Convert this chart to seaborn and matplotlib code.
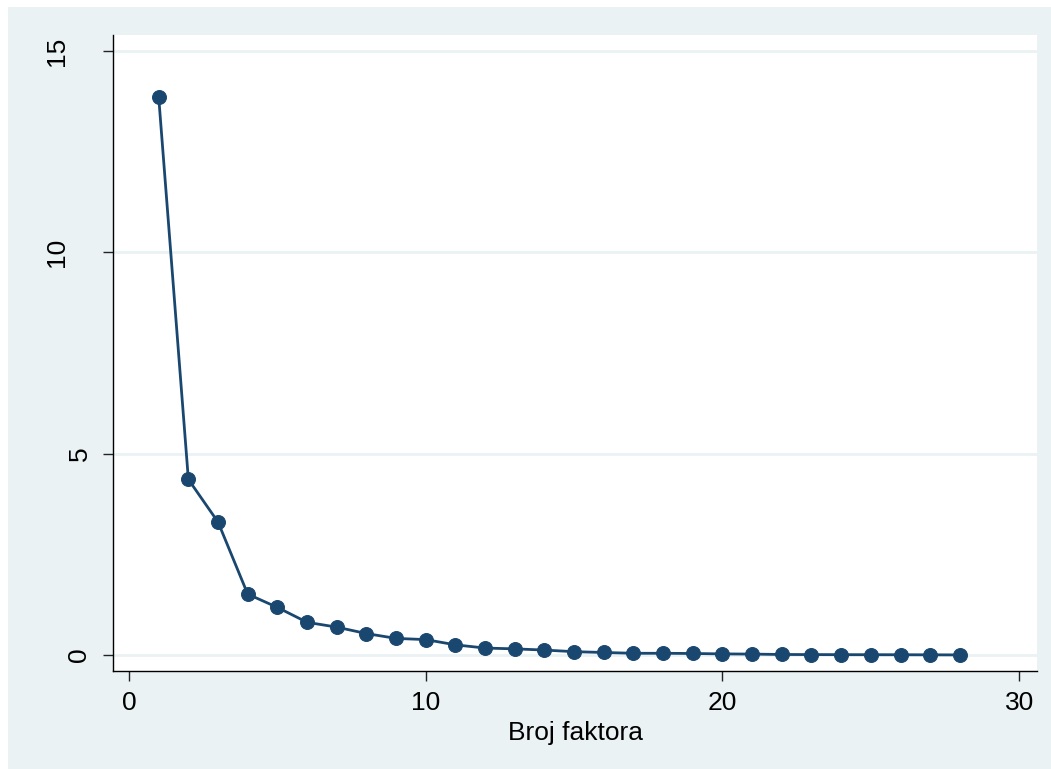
import numpy as np
import pandas as pd
import matplotlib
matplotlib.use("Agg")
import matplotlib.pyplot as plt
import matplotlib.transforms as mtransforms
import seaborn as sns

# scree plot data
factors = list(range(1, 29))
eigenvalues = [13.86, 4.36, 3.30, 1.51, 1.18, 0.81, 0.69, 0.53, 0.41, 0.38,
               0.25, 0.17, 0.15, 0.12, 0.08, 0.06, 0.04, 0.04, 0.035, 0.025,
               0.02, 0.01, 0.008, 0.006, 0.005, 0.004, 0.002, 0.0]
x_ticks = [0, 10, 20, 30]
y_ticks = [0, 5, 10, 15]

df = pd.DataFrame({"factor": factors, "eigen": eigenvalues})

bg = "#eaf2f3"
navy = "#1a476f"

sns.set_style("white")
plt.rcParams["font.family"] = ["Liberation Sans", "DejaVu Sans"]

fig = plt.figure(figsize=(10.51, 7.69), dpi=100)
fig.patch.set_facecolor("white")

# light outer frame like Stata's s2color scheme
bgax = fig.add_axes([8 / 1051, 0, 1 - 8 / 1051, 1 - 7 / 769], zorder=-10)
bgax.set_facecolor(bg)
bgax.set_xticks([])
bgax.set_yticks([])
for s in bgax.spines.values():
    s.set_visible(False)

ax = fig.add_axes([113 / 1051, 1 - 671 / 769, 924 / 1051, 636 / 769], zorder=1)
ax.set_facecolor("white")

for yt in y_ticks:
    ax.axhline(yt, color=bg, lw=2, zorder=0)

sns.lineplot(data=df, x="factor", y="eigen", ax=ax, color=navy, lw=2,
             marker="o", markersize=10, markeredgecolor=navy)

ax.set_xlim(-0.54, 30.6)
ax.set_ylim(-0.4, 15.4)
ax.set_xticks(x_ticks)
ax.set_yticks(y_ticks)
ax.tick_params(axis="both", direction="out", length=7.5, width=1, labelsize=19,
               colors="#222222", labelcolor="black", bottom=True, left=True)
ax.tick_params(axis="x", pad=7)
ax.tick_params(axis="y", pad=8)
plt.setp(ax.get_yticklabels(), rotation=90, va="center")

# Stata pushes the two-digit y labels further left
shift = mtransforms.ScaledTranslation(-0.22, 0, fig.dpi_scale_trans)
for lab in ax.get_yticklabels():
    if len(lab.get_text()) > 1:
        lab.set_transform(lab.get_transform() + shift)

ax.set_xlabel("Broj faktora", fontsize=19, labelpad=4, color="black")
ax.set_ylabel("")
for side in ["top", "right"]:
    ax.spines[side].set_visible(False)
for side in ["left", "bottom"]:
    ax.spines[side].set_color("black")
    ax.spines[side].set_linewidth(1)

fig.savefig("out.png", dpi=100, facecolor=fig.get_facecolor())
